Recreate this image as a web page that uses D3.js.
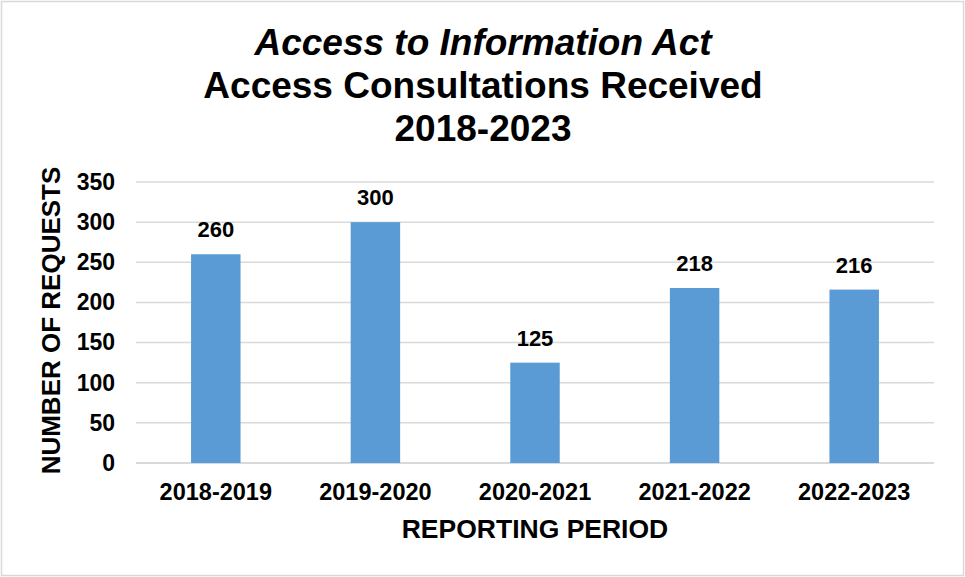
<!DOCTYPE html>
<html>
<head>
<meta charset="utf-8">
<script src="https://cdn.jsdelivr.net/npm/d3@7"></script>
<style>
  html, body { margin: 0; padding: 0; background: #fff; }
  svg { display: block; font-family: "Liberation Sans", Arial, sans-serif; }
</style>
</head>
<body>
<svg id="chart" width="965" height="577"></svg>
<script>
// Access consultations received per reporting period
const periods = ["2018-2019", "2019-2020", "2020-2021", "2021-2022", "2022-2023"];
const consultations = [260, 300, 125, 218, 216];
const yTicks = [0, 50, 100, 150, 200, 250, 300, 350];
const titleLines = ["Access to Information Act", "Access Consultations Received", "2018-2023"];

const W = 965, H = 577;
const plot = { left: 136, right: 934, top: 182, bottom: 463 };

const svg = d3.select("#chart");

// outer frame
svg.append("rect")
  .attr("x", 1.5).attr("y", 1.5)
  .attr("width", W - 3).attr("height", H - 3)
  .attr("fill", "#fff").attr("stroke", "#d9d9d9").attr("stroke-width", 1.5);

// title
const titleBaselines = [55, 98, 141];
svg.append("g").selectAll("text")
  .data(titleLines)
  .join("text")
  .attr("x", W / 2 + 0.5)
  .attr("y", (d, i) => titleBaselines[i])
  .attr("text-anchor", "middle")
  .attr("font-size", 37)
  .attr("font-weight", "bold")
  .attr("font-style", (d, i) => i === 0 ? "italic" : "normal")
  .attr("fill", "#000")
  .text(d => d);

const x = d3.scaleBand()
  .domain(periods)
  .range([plot.left, plot.right])
  .paddingInner(0.69)
  .paddingOuter(0.345);

const y = d3.scaleLinear()
  .domain([0, 350])
  .range([plot.bottom, plot.top]);

// horizontal gridlines
svg.append("g")
  .selectAll("line")
  .data(yTicks)
  .join("line")
  .attr("x1", plot.left).attr("x2", plot.right)
  .attr("y1", d => y(d)).attr("y2", d => y(d))
  .attr("stroke", "#d9d9d9")
  .attr("stroke-width", d => d === 0 ? 2 : 1.5);

// y axis labels
const yAxis = d3.axisLeft(y).tickValues(yTicks).tickSize(0).tickPadding(21);
const gy = svg.append("g")
  .attr("transform", `translate(${plot.left},0)`)
  .call(yAxis);
gy.select(".domain").remove();
gy.selectAll("text")
  .attr("font-family", "'Liberation Sans', Arial, sans-serif")
  .attr("font-size", 23)
  .attr("font-weight", "bold")
  .attr("fill", "#000");

// bars
svg.append("g")
  .selectAll("rect")
  .data(periods)
  .join("rect")
  .attr("x", d => x(d))
  .attr("width", x.bandwidth())
  .attr("y", (d, i) => y(consultations[i]))
  .attr("height", (d, i) => y(0) - y(consultations[i]))
  .attr("fill", "#5b9bd5");

// value labels
svg.append("g")
  .selectAll("text")
  .data(periods)
  .join("text")
  .attr("x", d => x(d) + x.bandwidth() / 2)
  .attr("y", (d, i) => y(consultations[i]) - 17)
  .attr("text-anchor", "middle")
  .attr("font-size", 22)
  .attr("font-weight", "bold")
  .attr("fill", "#000")
  .text((d, i) => consultations[i]);

// x axis labels
const xAxis = d3.axisBottom(x).tickSize(0).tickPadding(20);
const gx = svg.append("g")
  .attr("transform", `translate(0,${plot.bottom})`)
  .call(xAxis);
gx.select(".domain").remove();
gx.selectAll("text")
  .attr("font-family", "'Liberation Sans', Arial, sans-serif")
  .attr("font-size", 23.5)
  .attr("font-weight", "bold")
  .attr("fill", "#000");

// axis titles
svg.append("text")
  .attr("x", (plot.left + plot.right) / 2)
  .attr("y", 538)
  .attr("text-anchor", "middle")
  .attr("font-size", 26.5)
  .attr("font-weight", "bold")
  .attr("fill", "#000")
  .text("REPORTING PERIOD");

svg.append("text")
  .attr("transform", `translate(60,${(plot.top + plot.bottom) / 2 - 2}) rotate(-90)`)
  .attr("text-anchor", "middle")
  .attr("font-size", 26)
  .attr("font-weight", "bold")
  .attr("fill", "#000")
  .text("NUMBER OF REQUESTS");
</script>
</body>
</html>
